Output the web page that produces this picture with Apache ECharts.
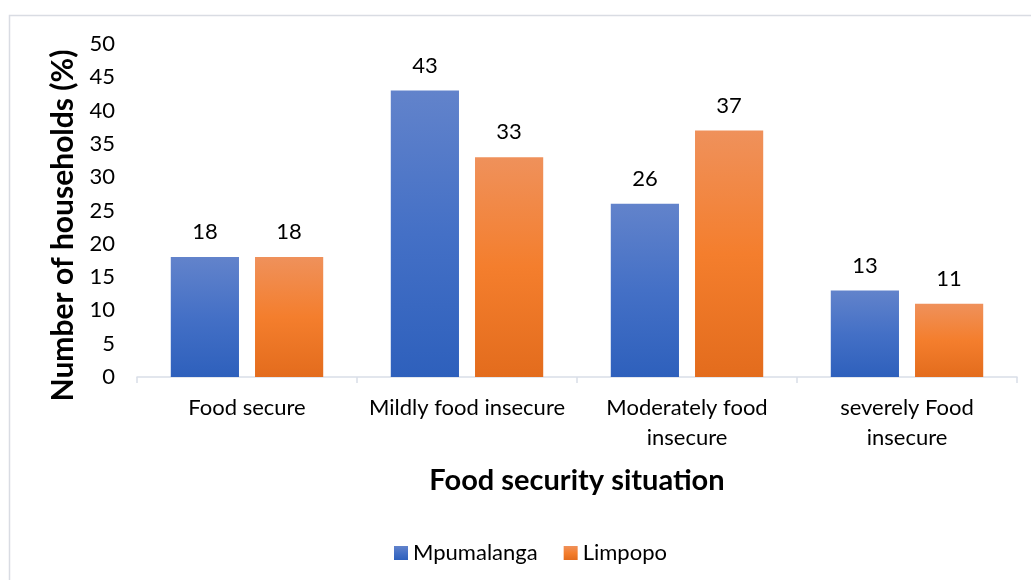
<!DOCTYPE html>
<html>
<head>
<meta charset="utf-8">
<script src="https://cdn.jsdelivr.net/npm/echarts@6/dist/echarts.min.js"></script>
<style>
html,body{margin:0;padding:0;background:#fff;}
#chart{width:1031px;height:580px;}
</style>
</head>
<body>
<div id="chart"></div>
<script>
var categories = ['Food secure', 'Mildly food insecure', 'Moderately food\ninsecure', 'severely Food\ninsecure'];
var seriesNames = ['Mpumalanga', 'Limpopo'];
var mpumalanga = [18, 43, 26, 13];
var limpopo = [18, 33, 37, 11];
var yTitle = 'Number of households (%)';
var xTitle = 'Food security situation';

var FONT = 'Lato, "Open Sans", sans-serif';
var chart = echarts.init(document.getElementById('chart'), null, {renderer: 'canvas'});

function grad(top, mid, bottom) {
  return new echarts.graphic.LinearGradient(0, 0, 0, 1, [
    {offset: 0, color: top},
    {offset: 0.5, color: mid},
    {offset: 1, color: bottom}
  ]);
}

var option = {
  backgroundColor: '#fff',
  animation: false,
  graphic: [{
    type: 'rect',
    shape: {x: 9.5, y: 15.5, width: 1040, height: 600},
    style: {fill: 'none', stroke: '#D9DCE3', lineWidth: 1.5},
    silent: true,
    z: -1
  }],
  grid: {left: 137, right: 14, top: 44, bottom: 203, containLabel: false},
  legend: {
    data: seriesNames,
    left: 389,
    top: 537,
    itemWidth: 14,
    itemHeight: 14,
    itemGap: 26,
    icon: 'rect',
    textStyle: {fontFamily: FONT, fontSize: 22, color: '#000'}
  },
  xAxis: {
    type: 'category',
    data: categories,
    name: xTitle,
    nameLocation: 'middle',
    nameGap: 89,
    nameTextStyle: {fontFamily: FONT, fontSize: 29, fontWeight: 'bold', color: '#000'},
    axisLine: {lineStyle: {color: '#D9DEE8', width: 1.5}},
    axisTick: {show: true, length: 6, lineStyle: {color: '#D9DEE8', width: 1.5}},
    axisLabel: {fontFamily: FONT, fontSize: 22, color: '#000', margin: 16, lineHeight: 30, interval: 0}
  },
  yAxis: {
    type: 'value',
    min: 0,
    max: 50,
    interval: 5,
    name: yTitle,
    nameLocation: 'middle',
    nameGap: 57,
    nameTextStyle: {fontFamily: FONT, fontSize: 30, fontWeight: 'bold', color: '#000', padding: [0, 30, 0, 0]},
    axisLine: {show: false},
    axisTick: {show: false},
    splitLine: {show: false},
    axisLabel: {fontFamily: FONT, fontSize: 22, color: '#000', margin: 22}
  },
  series: [{
    name: seriesNames[0],
    type: 'bar',
    data: mpumalanga,
    barWidth: '31%',
    barGap: '23.5%',
    itemStyle: {color: grad('#6283CB', '#4470C6', '#2E60BC')},
    label: {show: true, position: 'top', distance: 14, fontFamily: FONT, fontSize: 22, color: '#000'}
  }, {
    name: seriesNames[1],
    type: 'bar',
    data: limpopo,
    barWidth: '31%',
    barGap: '23.5%',
    itemStyle: {color: grad('#EF915B', '#F47E2D', '#E36C1D')},
    label: {show: true, position: 'top', distance: 14, fontFamily: FONT, fontSize: 22, color: '#000'}
  }]
};
chart.setOption(option);
</script>
</body>
</html>
